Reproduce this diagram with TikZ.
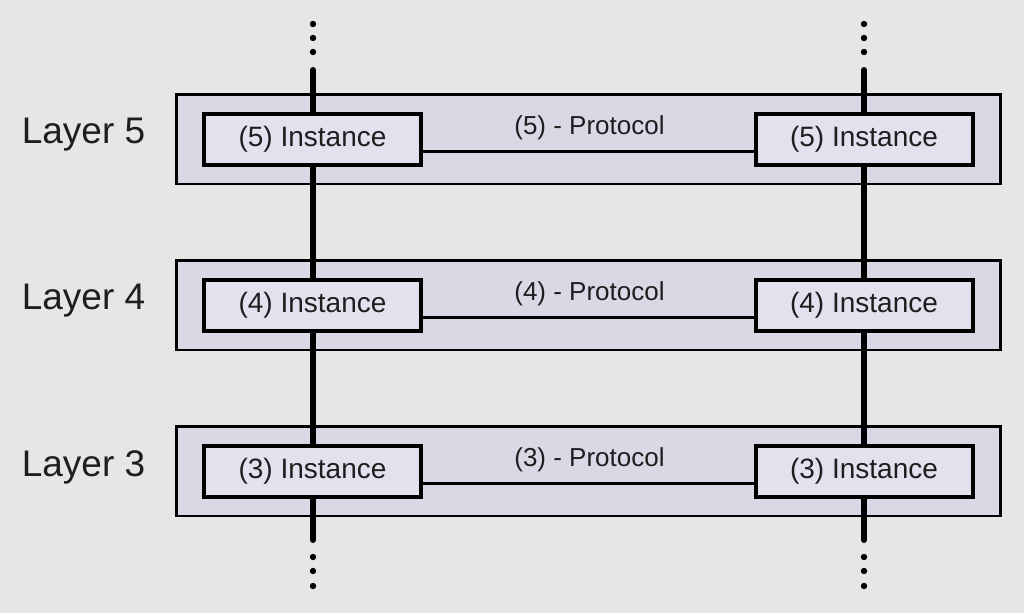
\documentclass[tikz,border=0pt]{standalone}
\usepackage{fontspec}
\setmainfont{Liberation Sans}
\definecolor{bgc}{HTML}{E6E6E6}
\definecolor{outerc}{HTML}{D9D9E6}
\definecolor{innerc}{HTML}{E2E2EE}
\definecolor{txtc}{HTML}{1E1E1E}
\begin{document}
\begin{tikzpicture}[x=1pt,y=-1pt,
  layerbox/.style={draw=black,fill=outerc,line width=2.5pt,minimum width=824pt,minimum height=89.5pt,inner sep=0pt},
  instbox/.style={draw=black,fill=innerc,line width=4pt,minimum width=217pt,minimum height=51pt,inner sep=0pt,text=txtc,font=\fontsize{28}{32}\selectfont},
  layerlabel/.style={text=txtc,font=\fontsize{37}{44}\selectfont,inner sep=0pt},
  protolabel/.style={text=txtc,font=\fontsize{26}{30}\selectfont,inner sep=0pt},
  protoline/.style={draw=black,line width=3pt},
  stack/.style={draw=black,line width=6pt,line cap=round},
  dotc/.style={fill=black,draw=none}]
\fill[bgc] (0,0) rectangle (1024,613);
\useasboundingbox (0,0) rectangle (1024,613);
% layer boxes
\node[layerbox] (B5) at (588.5,139) {};
\node[layerbox] (B4) at (588.5,305) {};
\node[layerbox] (B3) at (588.5,471) {};
% stack coordinates
\coordinate (TL) at (313,70);
\coordinate (TR) at (864,70);
\coordinate (BL) at (313,540);
\coordinate (BR) at (864,540);
% vertical lines (behind instances)
\draw[stack] (TL) -- (BL);
\draw[stack] (TR) -- (BR);
% instances
\node[instbox] (L5) at (312.5,139) {(5) Instance};
\node[instbox] (R5) at (864,139) {(5) Instance};
\node[instbox] (L4) at (312.5,305) {(4) Instance};
\node[instbox] (R4) at (864,305) {(4) Instance};
\node[instbox] (L3) at (312.5,471) {(3) Instance};
\node[instbox] (R3) at (864,471) {(3) Instance};
% protocol lines
\draw[protoline] ([yshift=-12pt]L5.east) -- ([yshift=-12pt]R5.west);
\draw[protoline] ([yshift=-12pt]L4.east) -- ([yshift=-12pt]R4.west);
\draw[protoline] ([yshift=-12pt]L3.east) -- ([yshift=-12pt]R3.west);
\node[protolabel] (P5) at (589.5,128) {(5) - Protocol};
\node[protolabel] (P4) at (589.5,294) {(4) - Protocol};
\node[protolabel] (P3) at (589.5,460) {(3) - Protocol};
% layer labels
\node[layerlabel] (N5) at (83.5,135) {Layer 5};
\node[layerlabel] (N4) at (83.5,301) {Layer 4};
\node[layerlabel] (N3) at (83.5,467) {Layer 3};
% dots
\foreach \y in {24,38,52,557,571,586}{
  \fill[dotc] (313,\y) circle (3.2pt);
  \fill[dotc] (864,\y) circle (3.2pt);
}
\end{tikzpicture}
\end{document}
